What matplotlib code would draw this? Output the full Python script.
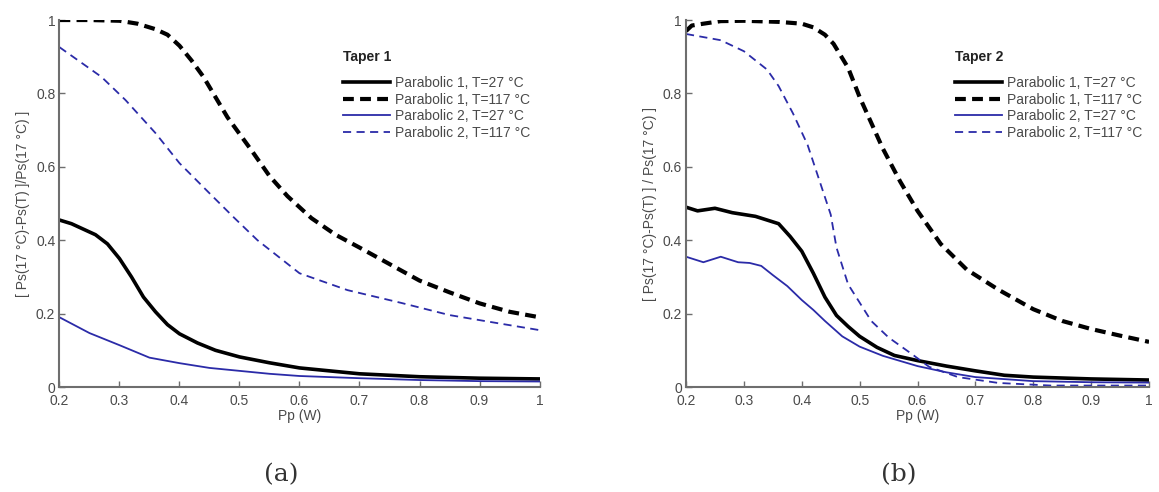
import matplotlib
matplotlib.use("Agg")
import matplotlib.pyplot as plt

plt.rcParams["font.family"] = ["Liberation Sans", "DejaVu Sans"]

# ---- Taper 1 (a) ----
a_x_p1_27 = [0.20, 0.22, 0.24, 0.26, 0.28, 0.30, 0.32, 0.34, 0.36, 0.38, 0.40, 0.43, 0.46, 0.50, 0.55, 0.60, 0.65, 0.70, 0.80, 0.90, 1.00]
a_y_p1_27 = [0.455, 0.445, 0.43, 0.415, 0.39, 0.35, 0.30, 0.245, 0.205, 0.17, 0.145, 0.12, 0.10, 0.082, 0.066, 0.052, 0.044, 0.036, 0.028, 0.024, 0.022]

a_x_p1_117 = [0.20, 0.25, 0.30, 0.33, 0.36, 0.38, 0.40, 0.42, 0.44, 0.46, 0.48, 0.50, 0.52, 0.55, 0.58, 0.62, 0.66, 0.70, 0.75, 0.80, 0.85, 0.90, 0.95, 1.00]
a_y_p1_117 = [1.0, 1.0, 0.998, 0.99, 0.975, 0.96, 0.93, 0.89, 0.845, 0.79, 0.735, 0.69, 0.645, 0.575, 0.52, 0.46, 0.415, 0.38, 0.335, 0.29, 0.258, 0.228, 0.205, 0.19]

a_x_p2_27 = [0.20, 0.25, 0.30, 0.35, 0.40, 0.45, 0.50, 0.55, 0.60, 0.70, 0.80, 0.90, 1.00]
a_y_p2_27 = [0.19, 0.147, 0.114, 0.08, 0.065, 0.052, 0.044, 0.036, 0.03, 0.024, 0.019, 0.016, 0.015]

a_x_p2_117 = [0.20, 0.27, 0.31, 0.36, 0.40, 0.45, 0.49, 0.53, 0.60, 0.68, 0.77, 0.85, 0.93, 1.00]
a_y_p2_117 = [0.926, 0.845, 0.782, 0.692, 0.61, 0.528, 0.463, 0.40, 0.31, 0.264, 0.229, 0.196, 0.174, 0.155]

# ---- Taper 2 (b) ----
b_x_p1_27 = [0.20, 0.22, 0.25, 0.28, 0.30, 0.32, 0.34, 0.36, 0.38, 0.40, 0.42, 0.44, 0.46, 0.48, 0.50, 0.53, 0.56, 0.60, 0.65, 0.70, 0.75, 0.80, 0.90, 1.00]
b_y_p1_27 = [0.49, 0.48, 0.487, 0.475, 0.47, 0.465, 0.455, 0.445, 0.41, 0.37, 0.31, 0.245, 0.195, 0.165, 0.138, 0.108, 0.086, 0.072, 0.057, 0.044, 0.032, 0.027, 0.022, 0.019]

b_x_p1_117 = [0.20, 0.21, 0.23, 0.26, 0.30, 0.36, 0.40, 0.42, 0.44, 0.455, 0.48, 0.50, 0.52, 0.54, 0.57, 0.60, 0.64, 0.685, 0.74, 0.80, 0.85, 0.90, 0.95, 1.00]
b_y_p1_117 = [0.97, 0.985, 0.99, 0.997, 0.998, 0.995, 0.99, 0.98, 0.96, 0.935, 0.87, 0.79, 0.72, 0.65, 0.56, 0.48, 0.39, 0.32, 0.265, 0.212, 0.18, 0.158, 0.14, 0.123]

b_x_p2_27 = [0.20, 0.23, 0.26, 0.29, 0.31, 0.33, 0.35, 0.375, 0.40, 0.42, 0.44, 0.47, 0.50, 0.54, 0.60, 0.65, 0.70, 0.80, 0.90, 1.00]
b_y_p2_27 = [0.355, 0.34, 0.355, 0.34, 0.338, 0.33, 0.305, 0.275, 0.237, 0.21, 0.18, 0.138, 0.11, 0.085, 0.057, 0.04, 0.027, 0.016, 0.013, 0.012]

b_x_p2_117 = [0.20, 0.26, 0.30, 0.34, 0.36, 0.385, 0.41, 0.43, 0.45, 0.46, 0.48, 0.50, 0.52, 0.55, 0.59, 0.62, 0.67, 0.74, 0.83, 1.00]
b_y_p2_117 = [0.962, 0.945, 0.915, 0.865, 0.82, 0.745, 0.66, 0.565, 0.47, 0.38, 0.28, 0.23, 0.18, 0.135, 0.09, 0.055, 0.027, 0.011, 0.004, 0.004]

labels = ["Parabolic 1, T=27 \u00b0C", "Parabolic 1, T=117 \u00b0C",
          "Parabolic 2, T=27 \u00b0C", "Parabolic 2, T=117 \u00b0C"]
x_ticks = [0.2, 0.3, 0.4, 0.5, 0.6, 0.7, 0.8, 0.9, 1.0]
x_tick_labels = ["0.2", "0.3", "0.4", "0.5", "0.6", "0.7", "0.8", "0.9", "1"]
y_ticks = [0, 0.2, 0.4, 0.6, 0.8, 1.0]
y_tick_labels = ["0", "0.2", "0.4", "0.6", "0.8", "1"]

blue = "#2b2ba8"
axis_gray = "#6e6e6e"
text_gray = "#4a4a4a"

fig = plt.figure(figsize=(11.59, 4.92), dpi=100)
ax_a = fig.add_axes([0.0513, 0.2134, 0.4142, 0.7459])
ax_b = fig.add_axes([0.5919, 0.2134, 0.3995, 0.7459])

panels = [
    (ax_a, (a_x_p1_27, a_y_p1_27), (a_x_p1_117, a_y_p1_117), (a_x_p2_27, a_y_p2_27), (a_x_p2_117, a_y_p2_117),
     "[ Ps(17 \u00b0C)-Ps(T) ]/Ps(17 \u00b0C) ]", "Taper 1", 343, "(a)"),
    (ax_b, (b_x_p1_27, b_y_p1_27), (b_x_p1_117, b_y_p1_117), (b_x_p2_27, b_y_p2_27), (b_x_p2_117, b_y_p2_117),
     "[ Ps(17 \u00b0C)-Ps(T) ] / Ps(17 \u00b0C) ]", "Taper 2", 955, "(b)"),
]

for ax, s1, s2, s3, s4, ylab, title, leg_x, cap in panels:
    l1, = ax.plot(s1[0], s1[1], color="black", lw=2.6, label=labels[0])
    l2, = ax.plot(s2[0], s2[1], color="black", lw=3.0, ls=(0, (2.6, 1.5)), label=labels[1])
    l3, = ax.plot(s3[0], s3[1], color=blue, lw=1.3, label=labels[2])
    l4, = ax.plot(s4[0], s4[1], color=blue, lw=1.3, ls=(0, (4.5, 3)), label=labels[3])

    ax.set_xlim(0.2, 1.0)
    ax.set_ylim(0, 1.0)
    ax.set_xticks(x_ticks)
    ax.set_xticklabels(x_tick_labels)
    ax.set_yticks(y_ticks)
    ax.set_yticklabels(y_tick_labels)
    ax.tick_params(direction="in", length=4, width=1, color=axis_gray,
                   labelcolor=text_gray, labelsize=10)
    ax.tick_params(axis="x", pad=5)
    ax.tick_params(axis="y", pad=3)
    for side in ["top", "right"]:
        ax.spines[side].set_visible(False)
    for side in ["left", "bottom"]:
        ax.spines[side].set_color(axis_gray)
        ax.spines[side].set_linewidth(1.5)
    ax.set_xlabel("Pp (W)", color=text_gray, fontsize=10, labelpad=1)
    ax.set_ylabel(ylab, color=text_gray, fontsize=10, labelpad=4)

    # legend title placed separately (bold "Taper n")
    fig.text(leg_x / 1159, 1 - 57 / 492, title, fontsize=10, fontweight="bold",
             color="#222222", va="center", ha="left")
    ax.legend(handles=[l1, l2, l3, l4], loc="upper left",
              bbox_to_anchor=(leg_x / 1159, 1 - 76 / 492), bbox_transform=fig.transFigure,
              frameon=False, fontsize=10, handlelength=3.4, handletextpad=0.35,
              labelspacing=0.18, borderpad=0, borderaxespad=0, labelcolor=text_gray)

    cx = (ax.get_position().x0 + ax.get_position().x1) / 2
    fig.text(cx - 0.016, 1 - 475 / 492, cap, fontsize=18, family="DejaVu Serif",
             color="#333333", ha="center", va="center")

fig.savefig("out.png", dpi=100)
